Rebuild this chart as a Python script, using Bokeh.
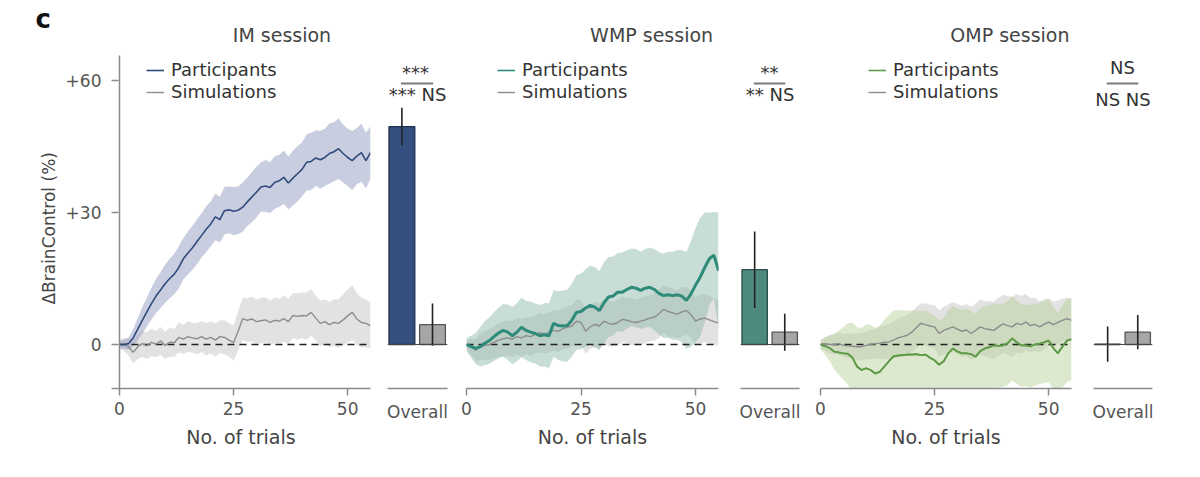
import numpy as np
from bokeh.plotting import figure
from bokeh.models import Range1d, FixedTicker, Label, Span
from bokeh.layouts import row
from bokeh.embed import file_html
from bokeh.resources import INLINE

# ---------------- data ----------------
trials = list(range(56))

im_part = [0.0, 0.0, 0.2, 1.5, 3.5, 5.5, 7.4, 9.3, 11.0, 12.4,
           13.8, 15.0, 16.0, 17.5, 19.5, 20.8, 22.0, 23.4, 24.8, 26.2,
           27.4, 29.0, 28.4, 30.4, 30.6, 30.3, 30.5, 31.2, 32.4, 33.5,
           34.6, 35.8, 36.0, 35.7, 36.8, 37.2, 38.0, 36.7, 37.8, 38.8,
           39.8, 41.4, 41.6, 42.4, 42.0, 42.5, 43.4, 43.8, 44.5, 43.4,
           42.5, 41.8, 42.8, 43.6, 41.8, 43.6]
im_part_err = [0.8, 1.0, 1.4, 2.0, 2.5, 3.0, 3.3, 3.6, 3.9, 4.1,
               4.3, 4.5, 4.6, 4.8, 4.7, 4.9, 5.0, 5.1, 5.0, 5.2,
               5.1, 5.3, 5.2, 5.4, 5.3, 5.5, 5.4, 5.6, 5.5, 5.7,
               5.8, 5.6, 5.9, 5.8, 6.0, 5.9, 6.1, 6.0, 6.2, 6.3,
               6.1, 6.4, 6.5, 6.3, 6.6, 6.5, 6.8, 6.7, 6.9, 6.6,
               6.5, 6.7, 6.4, 6.6, 6.3, 6.0]
im_sim = [0.0, 0.0, -0.5, -1.8, -0.5, 0.2, -0.3, 0.5, 0.1, 0.8,
          -0.2, 0.5, 0.4, 1.6, 1.2, 1.8, 1.5, 1.3, 1.8, 1.2,
          1.6, 1.0, 1.8, 1.6, 1.0, 0.4, 3.0, 5.9, 5.5, 5.8,
          5.2, 5.4, 5.6, 5.0, 5.5, 5.3, 5.9, 5.2, 6.6, 6.4,
          6.6, 6.5, 7.3, 6.0, 4.8, 5.2, 4.5, 5.0, 4.8, 5.6,
          6.5, 7.3, 5.8, 5.0, 4.8, 4.3]
im_sim_err = [1.0, 1.5, 2.0, 2.5, 2.8, 3.0, 3.0, 3.1, 3.0, 3.2,
              3.1, 3.3, 3.2, 3.4, 3.3, 3.5, 3.4, 3.6, 3.5, 3.7,
              3.6, 3.8, 3.7, 3.9, 3.8, 4.0, 4.5, 4.8, 5.0, 5.1,
              5.0, 5.2, 5.1, 5.0, 5.2, 5.1, 5.3, 5.2, 5.1, 5.3,
              5.2, 5.4, 5.3, 5.1, 5.2, 5.0, 5.1, 5.3, 5.5, 5.8,
              6.0, 6.2, 5.9, 5.6, 5.4, 5.2]

wmp_part = [0.0, -0.5, -0.9, -0.5, 0.3, 0.9, 1.8, 2.6, 3.2, 2.8,
            2.0, 2.8, 3.9, 3.2, 2.8, 2.5, 2.0, 2.2, 2.0, 4.8,
            4.3, 4.2, 4.3, 5.5, 7.3, 7.5, 8.3, 8.9, 8.5, 7.7,
            9.5, 10.8, 11.0, 11.9, 11.9, 12.5, 13.0, 12.8, 12.3, 12.8,
            13.0, 12.5, 11.6, 11.1, 11.3, 11.1, 11.3, 11.0, 10.0, 11.5,
            13.5, 15.3, 17.5, 19.5, 20.3, 16.8]
wmp_part_err = [1.5, 2.5, 3.5, 4.5, 5.0, 5.3, 5.5, 5.8, 6.0, 6.3,
                6.5, 6.6, 6.8, 6.7, 6.9, 6.8, 7.0, 7.2, 7.4, 7.6,
                7.8, 8.0, 8.2, 8.3, 8.5, 8.6, 8.8, 9.0, 9.1, 9.0,
                9.2, 9.1, 9.0, 8.9, 9.0, 8.9, 8.8, 8.9, 8.8, 8.9,
                9.0, 9.2, 9.4, 9.6, 9.8, 10.0, 10.2, 10.5, 11.0, 12.0,
                13.0, 13.5, 12.5, 10.5, 9.8, 13.2]
wmp_sim = [0.0, -0.5, -1.3, -0.5, -0.2, 0.0, 0.5, 1.0, 1.3, 1.5,
           1.2, 1.8, 1.5, 2.0, 1.8, 2.3, 2.7, 2.4, 2.7, 3.2,
           3.0, 3.6, 3.9, 4.2, 5.3, 5.0, 3.0, 4.0, 4.6, 4.2,
           5.3, 4.8, 4.6, 5.0, 5.7, 5.5, 5.2, 5.0, 5.3, 5.6,
           6.0, 6.2, 7.0, 8.0, 7.5, 7.2, 6.9, 7.4, 7.7, 6.8,
           5.3, 5.8, 6.0, 5.6, 5.2, 4.9]
wmp_sim_err = [1.0, 1.8, 2.5, 3.0, 3.3, 3.5, 3.6, 3.8, 3.9, 4.0,
               4.1, 4.2, 4.3, 4.2, 4.4, 4.3, 4.5, 4.4, 4.6, 4.5,
               4.7, 4.6, 4.8, 4.7, 4.9, 5.0, 5.1, 5.0, 5.2, 5.1,
               5.0, 5.2, 5.1, 5.3, 5.2, 5.1, 5.3, 5.2, 5.4, 5.3,
               5.2, 5.4, 5.5, 5.4, 5.6, 5.5, 5.4, 5.6, 5.5, 5.3,
               5.4, 5.6, 5.5, 5.4, 5.3, 5.2]

omp_part = [0.0, -0.4, -0.8, -1.6, -1.8, -2.0, -2.1, -3.0, -5.0, -5.8,
            -5.4, -5.8, -6.6, -6.2, -5.0, -3.8, -2.7, -2.5, -2.4, -2.3,
            -2.3, -2.2, -2.4, -2.3, -3.0, -3.6, -4.6, -3.8, -2.0, -0.9,
            -1.6, -2.0, -2.0, -2.2, -2.8, -1.5, -0.9, -0.6, -0.2, -0.3,
            -0.2, 0.3, 1.4, 0.5, -0.2, -0.2, -0.4, 0.0, 0.2, 0.5,
            0.9, -0.8, -2.0, -0.5, 0.9, 1.2]
omp_part_err = [1.0, 2.0, 3.0, 4.0, 5.0, 6.0, 7.0, 8.0, 9.0, 9.5,
                10.0, 10.2, 10.4, 10.5, 10.6, 10.5, 10.4, 10.3, 10.2, 10.0,
                10.1, 10.0, 9.9, 10.0, 10.1, 10.2, 10.0, 9.9, 9.8, 9.7,
                9.8, 9.9, 10.0, 9.9, 9.8, 9.7, 9.6, 9.5, 9.6, 9.5,
                9.4, 9.5, 9.6, 9.5, 9.4, 9.3, 9.4, 9.3, 9.2, 9.3,
                9.4, 9.3, 9.2, 9.3, 9.4, 9.4]
omp_sim = [0.0, 0.1, 0.0, 0.0, 0.2, -0.2, -0.3, -0.4, -0.5, -0.5,
           -0.2, 0.0, 0.2, 0.3, 0.5, 0.6, 1.0, 1.5, 1.8, 2.1,
           2.8, 3.8, 4.8, 4.5, 4.2, 4.0, 2.5, 3.2, 3.6, 4.0,
           3.5, 3.0, 3.3, 2.5, 3.2, 4.0, 3.6, 3.4, 3.2, 4.0,
           4.7, 4.3, 4.0, 4.8, 4.5, 5.1, 4.3, 4.6, 4.0, 4.6,
           5.1, 4.5, 5.0, 5.5, 5.9, 5.5]
omp_sim_err = [1.0, 1.5, 2.0, 2.3, 2.5, 2.6, 2.8, 2.9, 3.0, 3.1,
               3.2, 3.3, 3.4, 3.6, 3.8, 4.0, 4.2, 4.4, 4.5, 4.6,
               4.6, 4.7, 4.6, 4.8, 4.9, 5.0, 5.2, 5.4, 5.5, 5.6,
               5.7, 5.8, 5.9, 6.0, 6.1, 6.2, 6.3, 6.4, 6.5, 6.6,
               6.6, 6.7, 6.8, 6.7, 6.6, 6.4, 6.2, 6.0, 5.8, 5.6,
               5.4, 5.2, 5.0, 4.9, 4.8, 4.8]

# overall bars: [participants, simulations]
im_bar = [49.5, 4.5]
im_bar_err = [4.3, 4.8]
wmp_bar = [17.0, 2.8]
wmp_bar_err = [8.7, 4.2]
omp_bar = [0.1, 2.8]
omp_bar_err = [4.0, 3.9]

sessions = ["IM session", "WMP session", "OMP session"]
sig_top = ["***", "**", "NS"]
sig_bottom = ["*** NS", "** NS", "NS NS"]
legend_labels = ["Participants", "Simulations"]
x_ticks = [0, 25, 50]
y_ticks = [0, 30, 60]
y_tick_labels = {0: "0", 30: "+30", 60: "+60"}
bar_label = "Overall"
y_label = "\u0394BrainControl (%)"
panel_letter = "c"

# ---------------- style ----------------
FONT = "DejaVu Sans"
AXIS_C = "#8a8a8a"
Y_MIN, Y_MAX = -10, 75.9
Y_AXIS_TOP = 65.7
H = 469
BT, BB = 10, 81
BAR_POS = [0.48, 1.5]
BAR_W = 0.86
TITLE_Y = 70.4

yr = Range1d(Y_MIN, Y_MAX)


def base_fig(width, xr, bl, br, yaxis=False):
    kw = dict(width=width, height=H, x_range=xr, y_range=yr,
              output_backend="svg", toolbar_location=None,
              min_border_left=bl, min_border_right=br,
              min_border_top=BT, min_border_bottom=BB)
    if not yaxis:
        kw["y_axis_location"] = None
    p = figure(**kw)
    p.outline_line_color = None
    p.grid.visible = False
    p.xaxis.axis_line_color = AXIS_C
    p.xaxis.axis_line_width = 1.5
    p.xaxis.major_tick_line_color = AXIS_C
    p.xaxis.major_tick_line_width = 1.5
    p.xaxis.major_tick_out = 7
    p.xaxis.major_tick_in = 0
    p.xaxis.minor_tick_line_color = None
    p.xaxis.major_label_text_font = FONT
    p.xaxis.major_label_text_font_size = "17px"
    p.xaxis.major_label_text_color = "#555555"
    p.xaxis.major_label_standoff = 6
    return p


def line_panel(width, xr, bl, br, part, part_err, sim, sim_err,
               pcol, pband, pwidth, title, title_x, leg_x, yaxis=False):
    p = base_fig(width, xr, bl, br, yaxis)
    p.xaxis.ticker = FixedTicker(ticks=x_ticks)
    p.xaxis.axis_label = "No. of trials"
    p.xaxis.axis_label_text_font = FONT
    p.xaxis.axis_label_text_font_size = "19px"
    p.xaxis.axis_label_text_font_style = "normal"
    p.xaxis.axis_label_text_color = "#444444"
    p.xaxis.axis_label_standoff = 8

    t = np.array(trials, dtype=float)
    pa, pe = np.array(part), np.array(part_err)
    sa, se = np.array(sim), np.array(sim_err)
    p.varea(x=t, y1=sa - se, y2=sa + se, fill_color="#a0a0a0", fill_alpha=0.3)
    p.varea(x=t, y1=pa - pe, y2=pa + pe, fill_color=pband, fill_alpha=0.48)
    p.line(x=[trials[0], trials[-1]], y=[0, 0], line_color="#222222",
           line_width=1.6, line_dash="7 5")
    p.line(x=t, y=sa, line_color="#8c8c8c", line_width=1.4,
           legend_label=legend_labels[1])
    p.line(x=t, y=pa, line_color=pcol, line_width=1.6,
           legend_label=legend_labels[0])
    if pwidth > 1.6:
        p.line(x=t, y=pa, line_color=pcol, line_width=pwidth)
    leg = p.legend[0]
    leg.items = leg.items[::-1]
    leg.location = (leg_x, 286)
    leg.padding = 0
    leg.margin = 0
    leg.spacing = 1
    leg.glyph_width = 18
    leg.glyph_height = 20
    leg.label_height = 20
    leg.label_standoff = 7
    leg.border_line_color = None
    leg.background_fill_alpha = 0
    leg.label_text_font = FONT
    leg.label_text_font_size = "18px"
    leg.label_text_color = "#333333"

    p.add_layout(Label(x=title_x, y=TITLE_Y, text=title, text_align="center",
                       text_baseline="alphabetic", text_font=FONT,
                       text_font_size="19px", text_color="#444444"))
    return p


def bar_panel(width, bl, br, vals, errs, fills, lines, top, bottom, x_top):
    p = base_fig(width, Range1d(0, 2), bl, br)
    p.xaxis.ticker = FixedTicker(ticks=[1])
    p.xaxis.major_label_overrides = {1: bar_label}
    p.xaxis.major_tick_line_color = None
    p.add_layout(Span(location=0, dimension="width", line_color="#444444",
                      line_width=1.2))
    p.vbar(x=BAR_POS, top=vals, bottom=0, width=BAR_W,
           fill_color=fills, line_color=lines, line_width=1.3)
    v, e = np.array(vals), np.array(errs)
    p.segment(x0=BAR_POS, y0=v - e, x1=BAR_POS, y1=v + e,
              line_color="#222222", line_width=1.6)
    top_y = 62.9 if top == "NS" else 61.8
    bot_y = 55.7 if top == "NS" else 56.8
    p.add_layout(Label(x=x_top, y=top_y, text=top, text_align="center",
                       text_baseline="alphabetic", text_font=FONT,
                       text_font_size="18px", text_color="#333333"))
    p.segment(x0=[0.45], y0=[59.3], x1=[1.52], y1=[59.3],
              line_color="#7a7a7a", line_width=2)
    p.add_layout(Label(x=1.0, y=bot_y, text=bottom, text_align="center",
                       text_baseline="alphabetic", text_font=FONT,
                       text_font_size="18px", text_color="#333333"))
    return p


# narrow label strip on the far left: panel letter and y-axis title
W0 = 62
f0 = figure(width=W0, height=H, x_range=Range1d(0, W0), y_range=yr,
            output_backend="svg", toolbar_location=None,
            x_axis_location=None, y_axis_location=None,
            min_border_left=0, min_border_right=0,
            min_border_top=BT, min_border_bottom=BB)
f0.outline_line_color = None
f0.grid.visible = False
f0.add_layout(Label(x=48, y=26.4, text=y_label, angle=np.pi / 2,
                    text_align="center", text_baseline="middle",
                    text_font=FONT, text_font_size="17px",
                    text_color="#444444"))
f0.add_layout(Label(x=35, y=74.0, text=panel_letter, text_align="left",
                    text_baseline="alphabetic", text_font=FONT,
                    text_font_size="26px", text_font_style="bold",
                    text_color="#111111"))

# IM line panel (with y axis)
f1 = line_panel(318, Range1d(-1.75, 55.0), 48, 10, im_part, im_part_err,
                im_sim, im_sim_err, "#2f4b7c", "#8f97bf", 1.6,
                sessions[0], 35.6, 35, yaxis=True)
f1.yaxis.ticker = FixedTicker(ticks=y_ticks)
f1.yaxis.major_label_overrides = y_tick_labels
f1.yaxis.axis_line_color = None
f1.yaxis.major_tick_line_color = AXIS_C
f1.yaxis.major_tick_line_width = 1.5
f1.yaxis.major_tick_in = 7
f1.yaxis.major_tick_out = 0
f1.yaxis.minor_tick_line_color = None
f1.yaxis.major_label_standoff = 10
f1.yaxis.major_label_text_font = FONT
f1.yaxis.major_label_text_font_size = "17px"
f1.yaxis.major_label_text_color = "#555555"
f1.segment(x0=[0], y0=[Y_MIN], x1=[0], y1=[Y_AXIS_TOP],
           line_color=AXIS_C, line_width=1.5)

f2 = bar_panel(75, 7, 8, im_bar, im_bar_err, ["#34507f", "#a6a6a6"],
               ["#1e2f4f", "#555555"], sig_top[0], sig_bottom[0], 0.93)

f3 = line_panel(273, Range1d(0, 55.0), 11, 10, wmp_part, wmp_part_err,
                wmp_sim, wmp_sim_err, "#2e8b7a", "#8fb8ac", 3.0,
                sessions[1], 40.4, 31)

f4 = bar_panel(82, 12, 11, wmp_bar, wmp_bar_err, ["#4e8a7e", "#a6a6a6"],
               ["#2b4f47", "#555555"], sig_top[1], sig_bottom[1], 0.98)

f5 = line_panel(270, Range1d(0, 55.0), 10, 9, omp_part, omp_part_err,
                omp_sim, omp_sim_err, "#5e9b46", "#b5d19a", 1.8,
                sessions[2], 41.5, 48)

f6 = bar_panel(102, 13, 30, omp_bar, omp_bar_err, ["#6b9b55", "#a6a6a6"],
               ["#222222", "#555555"], sig_top[2], sig_bottom[2], 0.98)

layout = row(f0, f1, f2, f3, f4, f5, f6)
open("out.html", "w").write(file_html(layout, INLINE))
